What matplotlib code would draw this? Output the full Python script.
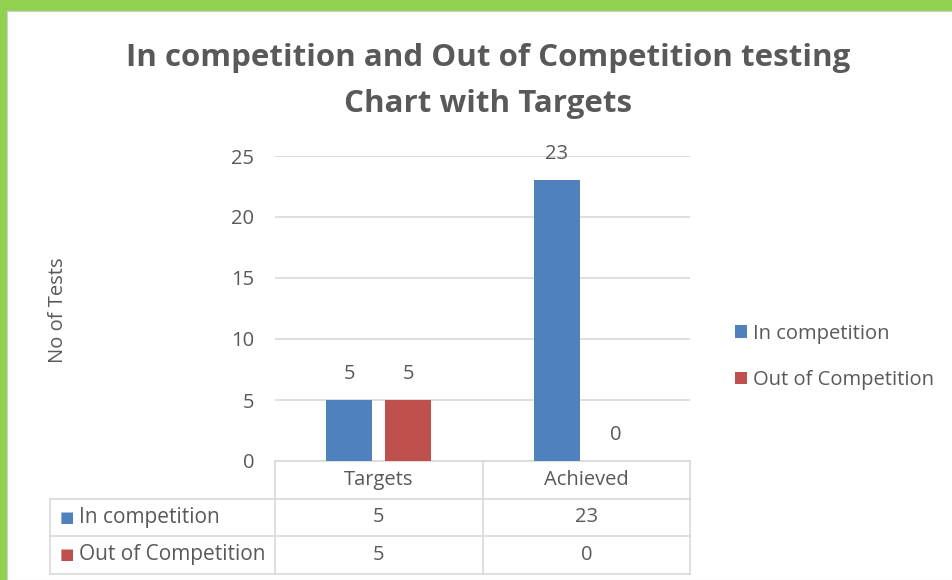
import matplotlib.pyplot as plt
from matplotlib.patches import Patch, Rectangle
import numpy as np

plt.rcParams['font.family'] = ['Open Sans', 'DejaVu Sans']

# data
categories = ['Targets', 'Achieved']
series_names = ['In competition', 'Out of Competition']
in_comp = [5, 23]
out_comp = [5, 0]
colors = ['#4F81BD', '#C0504D']
txt = '#595959'
grid_c = '#D9D9D9'
fs = 14.5

W, H = 952, 580
fig = plt.figure(figsize=(W / 100, H / 100), dpi=100)
fig.patch.set_facecolor('#92D050')
# white panel inside the green frame
fig.patches.append(Rectangle((7 / W, 0), 1, 1 - 11 / H, transform=fig.transFigure,
                             facecolor='white', edgecolor='#D0D0D0', lw=0.8, zorder=-5))


def px(x0, y0, x1, y1):
    return [x0 / W, 1 - y1 / H, (x1 - x0) / W, (y1 - y0) / H]


ax = fig.add_axes(px(275, 156, 690, 461))
ax.set_facecolor('none')

x = np.arange(len(categories))
bw = 0.222
off = 0.142
for vals, c, sgn in zip([in_comp, out_comp], colors, [-1, 1]):
    bars = ax.bar(x + sgn * off, vals, bw, color=c, zorder=3)
    for b, v in zip(bars, vals):
        ax.annotate(str(v), (b.get_x() + b.get_width() / 2, v), xytext=(0, 19),
                    textcoords='offset points', ha='center', va='center',
                    fontsize=fs, color=txt)

ax.set_xlim(-0.5, len(categories) - 0.5)
ax.set_ylim(0, 25)
ax.set_yticks(range(0, 26, 5))
ax.yaxis.grid(True, color=grid_c, lw=1.2, zorder=0)
ax.tick_params(axis='y', length=0, pad=15, labelsize=fs, labelcolor=txt)
ax.set_xticks([])
for s in ax.spines.values():
    s.set_visible(False)

# data table under the plot
row_h = 37.5 / 305
tr = ax.get_xaxis_transform()
xl = -0.5 - (275 - 50) / 207.5
xr = len(categories) - 0.5
lk = dict(color=grid_c, lw=1.2, transform=tr, clip_on=False)
ax.plot([-0.5, xr], [0, 0], **lk)
for i in range(1, 4):
    ax.plot([xl, xr], [-i * row_h, -i * row_h], **lk)
for xv in np.arange(-0.5, xr + 0.01, 1):
    ax.plot([xv, xv], [0, -3 * row_h], **lk)
ax.plot([xl, xl], [-row_h, -3 * row_h], **lk)

for j, cat in enumerate(categories):
    ax.text(j, -0.5 * row_h, cat, transform=tr, ha='center', va='center',
            fontsize=fs, color=txt)
for i, (name, vals, c) in enumerate(zip(series_names, [in_comp, out_comp], colors)):
    yy = -(i + 1.5) * row_h
    ax.text(xl + 0.045, yy, '■', transform=tr, ha='left', va='center',
            fontsize=11, color=c, family='DejaVu Sans')
    ax.text(xl + 0.14, yy, name, transform=tr, ha='left', va='center',
            fontsize=15, color=txt)
    for j, v in enumerate(vals):
        ax.text(j, yy, str(v), transform=tr, ha='center', va='center',
                fontsize=fs, color=txt)

fig.text(488 / W, 1 - 81 / H,
         'In competition and Out of Competition testing\nChart with Targets',
         ha='center', va='center', fontsize=22.5, fontweight='bold', color=txt,
         linespacing=1.7)
fig.text(58 / W, 1 - 310 / H, 'No of Tests', rotation=90, ha='center', va='center',
         fontsize=fs, color=txt)

handles = [Patch(facecolor=c) for c in colors]
fig.legend(handles, series_names, loc='center left',
           bbox_to_anchor=(717 / W, 1 - 357 / H), frameon=False, fontsize=fs,
           labelcolor=txt, handlelength=0.6, handleheight=0.6,
           handletextpad=0.3, labelspacing=1.3)

plt.savefig('out.png', dpi=100)
